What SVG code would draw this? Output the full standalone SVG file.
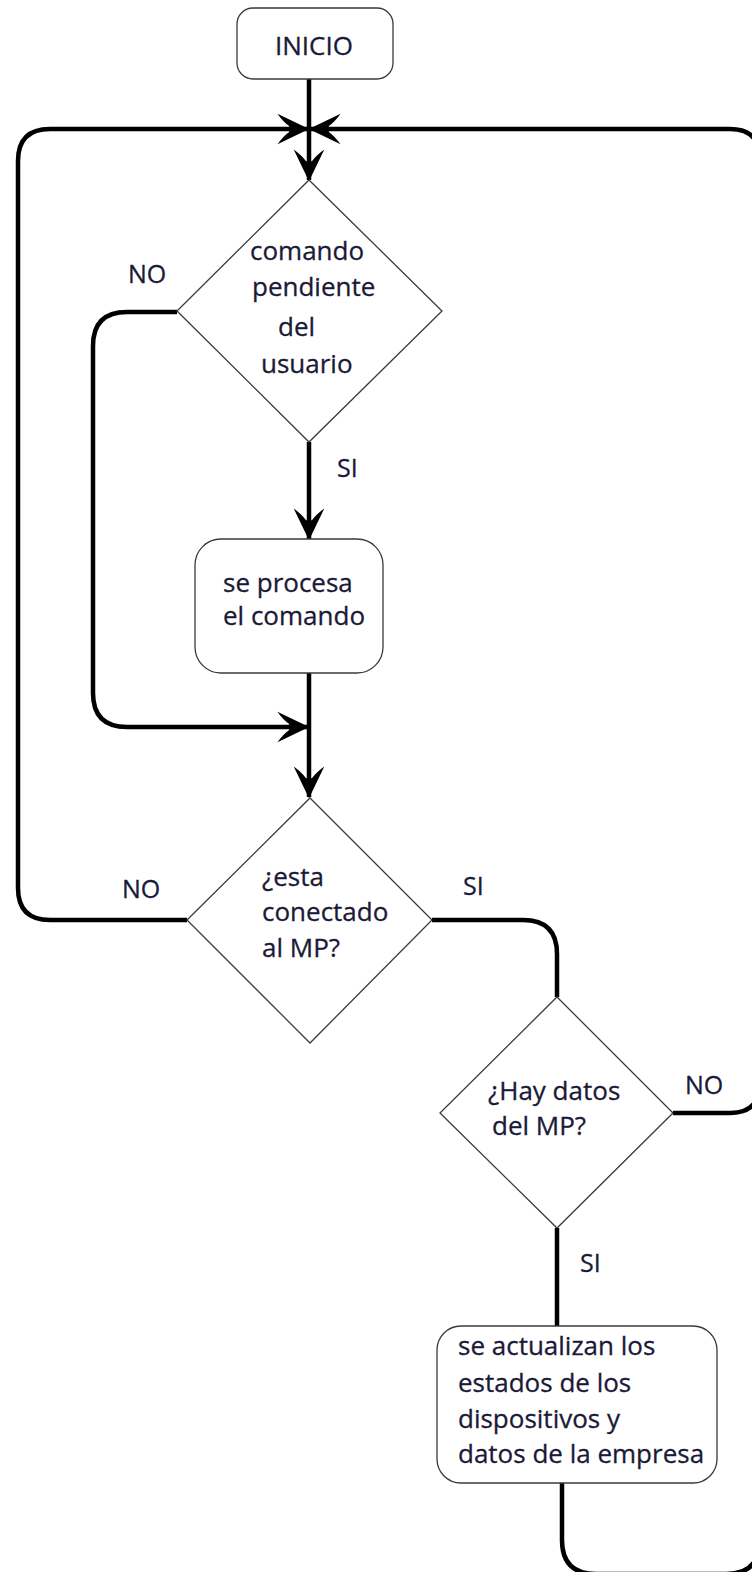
<svg xmlns="http://www.w3.org/2000/svg" width="752" height="1572" viewBox="0 0 752 1572">
  <style>
    .shape { fill: #ffffff; stroke: #3a3a3a; stroke-width: 1.3; }
    .flow { fill: none; stroke: #000000; stroke-width: 4.5; stroke-linejoin: round; }
    .txt { font-family: "Open Sans", "Liberation Sans", sans-serif; font-size: 26px; fill: #1a1a38; stroke: #1a1a38; stroke-width: 0.3; }
    .lbl { font-family: "Open Sans", "Liberation Sans", sans-serif; font-size: 25px; fill: #1a1a38; stroke: #1a1a38; stroke-width: 0.3; }
  </style>
  <defs>
    <marker id="arrow" markerUnits="userSpaceOnUse" markerWidth="40" markerHeight="40" viewBox="-30 -16 34 32" refX="0" refY="0" orient="auto">
      <path d="M1,0 L-26,-13 Q-21,-6 -16,-2.5 L-16,2.5 Q-21,6 -26,13 Z" fill="#000000"/>
    </marker>
  </defs>

  <rect width="752" height="1572" fill="#ffffff"/>

  <!-- connectors -->
  <g id="connectors">
    <!-- start to first decision -->
    <path class="flow" d="M309,79 L309,180" marker-end="url(#arrow)"/>
    <!-- NO of connection check: back to top -->
    <path class="flow" d="M187,920 L50,920 Q18,920 18,888 L18,161 Q18,129 50,129 L308,129" marker-end="url(#arrow)"/>
    <!-- NO of data check: back to top along right edge -->
    <path class="flow" d="M673,1113 L730,1113 Q760,1113 760,1083 L760,159 Q760,129 730,129 L310,129" marker-end="url(#arrow)"/>
    <!-- after update: back to right edge -->
    <path class="flow" d="M562,1483 L562,1540 Q562,1574 596,1574 L726,1574 Q760,1574 760,1540 L760,1100"/>
    <!-- NO of pending command: bypass -->
    <path class="flow" d="M177,312 L127,312 Q93,312 93,346 L93,693 Q93,727 127,727 L308,727" marker-end="url(#arrow)"/>
    <!-- SI of pending command -->
    <path class="flow" d="M309,442 L309,539" marker-end="url(#arrow)"/>
    <!-- process to connection check -->
    <path class="flow" d="M309,673 L309,797" marker-end="url(#arrow)"/>
    <!-- SI of connection check -->
    <path class="flow" d="M432,920 L523,920 Q557,920 557,954 L557,997"/>
    <!-- SI of data check -->
    <path class="flow" d="M557,1228 L557,1326"/>
  </g>

  <g id="inicio">
    <rect class="shape" x="237" y="8" width="156" height="71" rx="16" ry="16"/>
    <text class="txt" x="314" y="55" text-anchor="middle">INICIO</text>
  </g>

  <g id="comando-pendiente">
    <polygon class="shape" points="309,180 442,311 309,442 177,311"/>
    <text class="txt" x="250" y="260">comando</text>
    <text class="txt" x="252" y="296">pendiente</text>
    <text class="txt" x="278" y="336">del</text>
    <text class="txt" x="261" y="373">usuario</text>
  </g>

  <g id="procesa-comando">
    <rect class="shape" x="195" y="539" width="188" height="134" rx="26" ry="26"/>
    <text class="txt" x="223" y="592">se procesa</text>
    <text class="txt" x="223" y="625">el comando</text>
  </g>

  <g id="conectado-mp">
    <polygon class="shape" points="310,798 432,920 310,1043 187,920"/>
    <text class="txt" x="262" y="886">¿esta</text>
    <text class="txt" x="262" y="921">conectado</text>
    <text class="txt" x="262" y="957">al MP?</text>
  </g>

  <g id="hay-datos">
    <polygon class="shape" points="557,997 673,1113 557,1228 440,1113"/>
    <text class="txt" x="488" y="1100">¿Hay datos</text>
    <text class="txt" x="492" y="1135">del MP?</text>
  </g>

  <g id="actualizar-estados">
    <rect class="shape" x="437" y="1326" width="280" height="157" rx="24" ry="24"/>
    <text class="txt" x="458" y="1355">se actualizan los</text>
    <text class="txt" x="458" y="1392">estados de los</text>
    <text class="txt" x="458" y="1428">dispositivos y</text>
    <text class="txt" x="458" y="1463">datos de la empresa</text>
  </g>

  <g id="labels">
    <text class="lbl" x="128" y="283">NO</text>
    <text class="lbl" x="337" y="477">SI</text>
    <text class="lbl" x="122" y="898">NO</text>
    <text class="lbl" x="463" y="895">SI</text>
    <text class="lbl" x="685" y="1094">NO</text>
    <text class="lbl" x="580" y="1272">SI</text>
  </g>
</svg>
